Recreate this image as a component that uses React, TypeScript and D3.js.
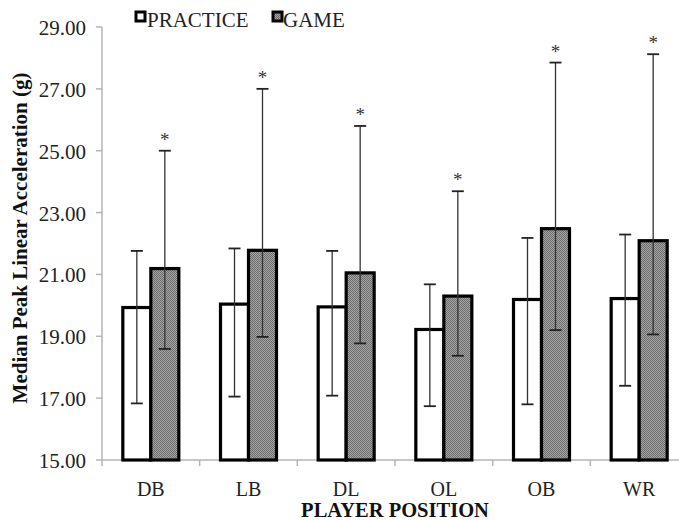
import React from "react";
import * as d3 from "d3";

const categories = ["DB", "LB", "DL", "OL", "OB", "WR"];
const practice = [19.93, 20.04, 19.95, 19.22, 20.19, 20.22];
const practiceHigh = [21.76, 21.84, 21.76, 20.68, 22.18, 22.29];
const practiceLow = [16.83, 17.05, 17.08, 16.74, 16.8, 17.4];
const game = [21.19, 21.78, 21.05, 20.3, 22.48, 22.09];
const gameHigh = [25.0, 27.0, 25.8, 23.69, 27.85, 28.12];
const gameLow = [18.59, 18.98, 18.77, 18.37, 19.2, 19.06];
const yTicks = [15, 17, 19, 21, 23, 25, 27, 29];
const seriesNames = ["PRACTICE", "GAME"];

const W = 679;
const H = 520;
const left = 102;
const right = 688;
const top = 27;
const bottom = 460;
const FONT = "'Liberation Serif', 'Times New Roman', serif";

export default function App() {
  const x = d3.scaleBand<string>().domain(categories).range([left, right]).paddingInner(0).paddingOuter(0);
  const y = d3.scaleLinear().domain([15, 29]).range([bottom, top]);
  const bw = 28;
  const cap = 6;

  return (
    <svg width={W} height={H} style={{ position: "absolute", left: 0, top: 0, background: "#fff" }}>
      <defs>
        <pattern id="chk" width="2" height="2" patternUnits="userSpaceOnUse">
          <rect width="2" height="2" fill="#a4a4a4" />
          <rect x="0" y="0" width="1" height="1" fill="#6e6e6e" />
          <rect x="1" y="1" width="1" height="1" fill="#6e6e6e" />
        </pattern>
      </defs>
      {/* y axis */}
      <line x1={left} x2={left} y1={top} y2={bottom} stroke="#b5b5b5" strokeWidth={1.5} />
      {yTicks.map((t) => (
        <g key={t}>
          <line x1={left - 6} x2={left} y1={y(t)} y2={y(t)} stroke="#b5b5b5" strokeWidth={1.5} />
          <text x={left - 16} y={y(t) + 8} textAnchor="end" fontFamily={FONT} fontSize={21} fill="#222">
            {t.toFixed(2)}
          </text>
        </g>
      ))}
      {/* x axis */}
      <line x1={left} x2={right} y1={bottom} y2={bottom} stroke="#b5b5b5" strokeWidth={1.5} />
      {categories.map((c) => (
        <line key={"t" + c} x1={x(c)!} x2={x(c)!} y1={bottom} y2={bottom + 6} stroke="#b5b5b5" strokeWidth={1.5} />
      ))}
      {categories.map((c) => (
        <text key={"l" + c} x={x(c)! + x.bandwidth() / 2} y={496} textAnchor="middle" fontFamily={FONT} fontSize={20} fill="#222">
          {c}
        </text>
      ))}
      {/* bars */}
      {categories.map((c, i) => {
        const cx = x(c)! + x.bandwidth() / 2;
        const px = cx - bw;
        const gx = cx;
        const ppx = px + bw / 2;
        const ggx = gx + bw / 2;
        return (
          <g key={"b" + c}>
            <rect x={px} y={y(practice[i])} width={bw} height={bottom - y(practice[i])} fill="#fff" stroke="#000" strokeWidth={3.2} />
            <rect x={gx} y={y(game[i])} width={bw} height={bottom - y(game[i])} fill="url(#chk)" stroke="#000" strokeWidth={3.2} />
            <line x1={ppx} x2={ppx} y1={y(practiceHigh[i])} y2={y(practiceLow[i])} stroke="#333" strokeWidth={1.3} />
            <line x1={ppx - cap} x2={ppx + cap} y1={y(practiceHigh[i])} y2={y(practiceHigh[i])} stroke="#222" strokeWidth={1.8} />
            <line x1={ppx - cap} x2={ppx + cap} y1={y(practiceLow[i])} y2={y(practiceLow[i])} stroke="#222" strokeWidth={1.8} />
            <line x1={ggx} x2={ggx} y1={y(gameHigh[i])} y2={y(gameLow[i])} stroke="#333" strokeWidth={1.3} />
            <line x1={ggx - cap} x2={ggx + cap} y1={y(gameHigh[i])} y2={y(gameHigh[i])} stroke="#222" strokeWidth={1.8} />
            <line x1={ggx - cap} x2={ggx + cap} y1={y(gameLow[i])} y2={y(gameLow[i])} stroke="#222" strokeWidth={1.8} />
            <text x={ggx} y={y(gameHigh[i]) - 5} textAnchor="middle" fontFamily={FONT} fontSize={19} fill="#333">
              *
            </text>
          </g>
        );
      })}
      {/* legend */}
      <rect x={136} y={12} width={9} height={9} fill="#fff" stroke="#000" strokeWidth={3} />
      <text x={147} y={27} fontFamily={FONT} fontSize={21} fill="#222">
        {seriesNames[0]}
      </text>
      <rect x={273} y={12} width={9} height={9} fill="url(#chk)" stroke="#000" strokeWidth={3} />
      <text x={283} y={27} fontFamily={FONT} fontSize={21} fill="#222">
        {seriesNames[1]}
      </text>
      {/* axis titles */}
      <text
        transform={`translate(27, 238) rotate(-90)`}
        textAnchor="middle"
        fontFamily={FONT}
        fontWeight="bold"
        fontSize={21}
        fill="#111"
      >
        Median Peak Linear Acceleration (g)
      </text>
      <text x={(left + right) / 2} y={517} textAnchor="middle" fontFamily={FONT} fontWeight="bold" fontSize={20.5} fill="#111">
        PLAYER POSITION
      </text>
    </svg>
  );
}
